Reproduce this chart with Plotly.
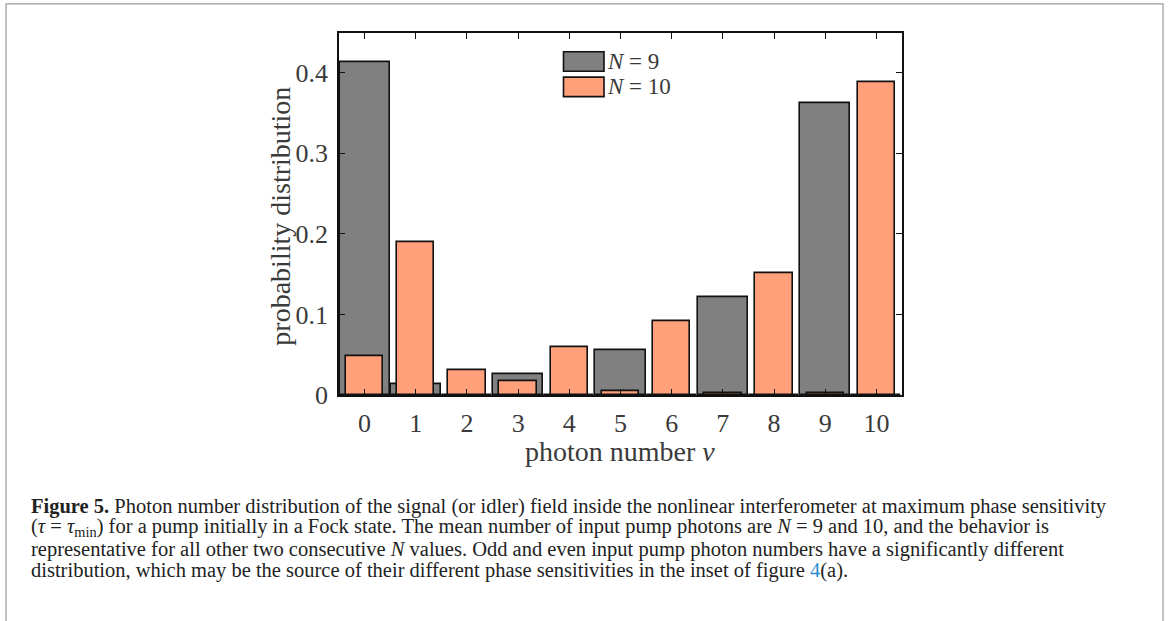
import plotly.graph_objects as go

# photon number nu on the x axis
photon_number = list(range(11))

# probability distribution for pump Fock states N = 9 and N = 10
p_n9 = [0.413, 0.014, 0.0, 0.026, 0.0, 0.056, 0.0, 0.122, 0.0, 0.362, 0.0]
p_n10 = [0.048, 0.190, 0.031, 0.017, 0.059, 0.005, 0.0915, 0.003, 0.151, 0.002, 0.388]

y_ticks = [0, 0.1, 0.2, 0.3, 0.4]

W, H = 1168, 621
X0, X1 = 339, 902      # plot area, px
Y0, Y1 = 34, 405

GRAY = "#808080"
SALMON = "#FFA07A"
EDGE = "#111111"
TEXT = "#3a3a3a"
FONT = "Liberation Serif"


def px(x):
    return x / W


def py(y):
    return 1 - y / H


fig = go.Figure()
fig.add_trace(go.Bar(
    x=photon_number, y=p_n9, width=0.98, name="N = 9",
    marker=dict(color=GRAY, line=dict(color=EDGE, width=1.6)),
))
fig.add_trace(go.Bar(
    x=photon_number, y=p_n10, width=0.73, name="N = 10",
    marker=dict(color=SALMON, line=dict(color=EDGE, width=1.6)),
))

axis_common = dict(
    showline=True, linecolor=EDGE, linewidth=1.5, mirror="ticks",
    ticks="inside", ticklen=6, tickwidth=1.3, tickcolor=EDGE,
    showgrid=False, zeroline=False,
    tickfont=dict(family=FONT, size=26, color=TEXT),
)

fig.update_layout(
    width=W, height=H,
    margin=dict(l=0, r=0, t=0, b=0),
    paper_bgcolor="white", plot_bgcolor="white",
    barmode="overlay", bargap=0, showlegend=False,
    xaxis=dict(domain=[px(X0), px(X1)], range=[-0.5, 10.5],
               tickmode="array", tickvals=photon_number,
               ticklabelstandoff=4, **axis_common),
    yaxis=dict(domain=[py(Y1), py(Y0)], range=[0, 0.4486],
               tickmode="array", tickvals=y_ticks,
               ticklabelstandoff=4, **axis_common),
)

annotations = []
shapes = []

# axis titles
annotations.append(dict(
    text="photon number <i>ν</i>", x=px(620), y=py(463),
    xref="paper", yref="paper", showarrow=False,
    xanchor="center", yanchor="middle",
    font=dict(family=FONT, size=28, color=TEXT),
))
annotations.append(dict(
    text="probability distribution", x=px(281), y=py(222),
    xref="paper", yref="paper", showarrow=False, textangle=-90,
    xanchor="center", yanchor="middle",
    font=dict(family=FONT, size=28, color=TEXT),
))

# legend: patches and labels
legend_rows = [(GRAY, "<i>N</i>\u00a0=\u00a09", 63), (SALMON, "<i>N</i>\u00a0=\u00a010", 89)]
for color, label, yc in legend_rows:
    shapes.append(dict(
        type="rect", xref="paper", yref="paper",
        x0=px(563.5), x1=px(604), y0=py(yc + 10), y1=py(yc - 10),
        fillcolor=color, line=dict(color=EDGE, width=1.6),
    ))
    annotations.append(dict(
        text=label, x=px(605), y=py(yc), xref="paper", yref="paper",
        showarrow=False, xanchor="left", yanchor="middle",
        font=dict(family=FONT, size=23, color=TEXT),
    ))

# caption block
caption_lines = [
    "<b>Figure 5.</b> Photon number distribution of the signal (or idler) field inside the nonlinear interferometer at maximum phase sensitivity",
    "(<i>τ</i> = <i>τ</i><sub>min</sub>) for a pump initially in a Fock state. The mean number of input pump photons are <i>N</i> = 9 and 10, and the behavior is",
    "representative for all other two consecutive <i>N</i> values. Odd and even input pump photon numbers have a significantly different",
    "distribution, which may be the source of their different phase sensitivities in the inset of figure <span style='color:#2a8fd0'>4</span>(a).",
]
for i, line in enumerate(caption_lines):
    annotations.append(dict(
        text=line, x=px(29), y=py(519 + i * 22), xref="paper", yref="paper",
        showarrow=False, xanchor="left", yanchor="middle",
        font=dict(family=FONT, size=20.5, color="#222222"),
    ))

# page frame around the figure
shapes.append(dict(
    type="rect", xref="paper", yref="paper",
    x0=px(6), x1=px(1163), y0=py(640), y1=py(4),
    line=dict(color="#9a9a9a", width=1.2), fillcolor="rgba(0,0,0,0)",
))

fig.update_layout(annotations=annotations, shapes=shapes)
fig.write_html("out.html")
